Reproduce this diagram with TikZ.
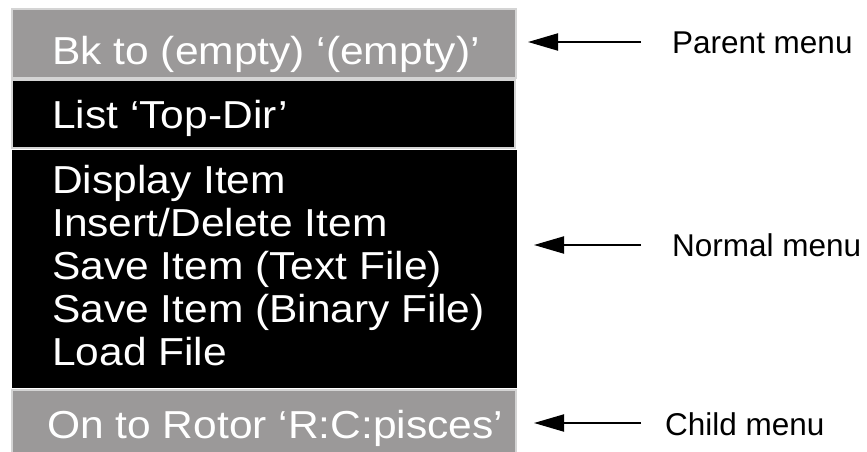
\documentclass[tikz,border=0pt]{standalone}
\usepackage{fontspec}
\setmainfont{Liberation Sans}
\newfontfamily\menufont[FakeStretch=1.09, Ligatures=TeX]{Liberation Sans}
\usetikzlibrary{arrows.meta, positioning}
\definecolor{menugray}{RGB}{155,153,153}
\definecolor{menuedge}{RGB}{212,212,212}

\begin{document}
\begin{tikzpicture}[x=1pt, y=-1pt,
					menubox/.style={draw=menuedge, line width=1.5pt, rectangle},
					entry/.style={anchor=base west, inner sep=0pt, text=white,
						font=\menufont\fontsize{39}{43}\selectfont},
					nextentry/.style={entry, below=43pt of #1.base west, anchor=base west},
					caption/.style={anchor=base west, inner sep=0pt,
						font=\fontsize{31.5}{34}\selectfont},
					pointer/.style={line width=2pt, -{Triangle[length=30pt, width=17pt]}}]

\useasboundingbox (0,0) rectangle (867,452);

\fill[white] (0,0) rectangle (867,452);
\draw[menubox, fill=menugray] (12,9) rectangle (516,78);
\draw[menubox, fill=black] (12,80) rectangle (515,148);
\fill[black] (12,150) rectangle (517,388);
\draw[menubox, fill=menugray] (12,390) rectangle (516,455);

\node[entry] (parent) at (52,64) {Bk to (empty) ‘(empty)’};
\node[entry] (list) at (52,128) {List ‘Top-Dir’};
\node[entry] (item1) at (52,193) {Display Item};
\node[nextentry=item1] (item2) {Insert/Delete Item};
\node[nextentry=item2] (item3) {Save Item (Text File)};
\node[nextentry=item3] (item4) {Save Item (Binary File)};
\node[nextentry=item4] (item5) {Load File};
\node[entry] (child) at (47,438) {On to Rotor ‘R:C:pisces’};

\node[caption] (parentlbl) at (672,53) {Parent menu};
\node[caption] (normallbl) at (672,256) {Normal menu};
\node[caption] (childlbl) at (665,435) {Child menu};

\coordinate (ptail) at (641,42);
\coordinate (ptip) at (528,42);
\coordinate (ntail) at (641,245);
\coordinate (ntip) at (534,245);
\coordinate (ctail) at (641,423);
\coordinate (ctip) at (534,423);

\draw[pointer] (ptail) -- (ptip);
\draw[pointer] (ntail) -- (ntip);
\draw[pointer] (ctail) -- (ctip);
\end{tikzpicture}
\end{document}
